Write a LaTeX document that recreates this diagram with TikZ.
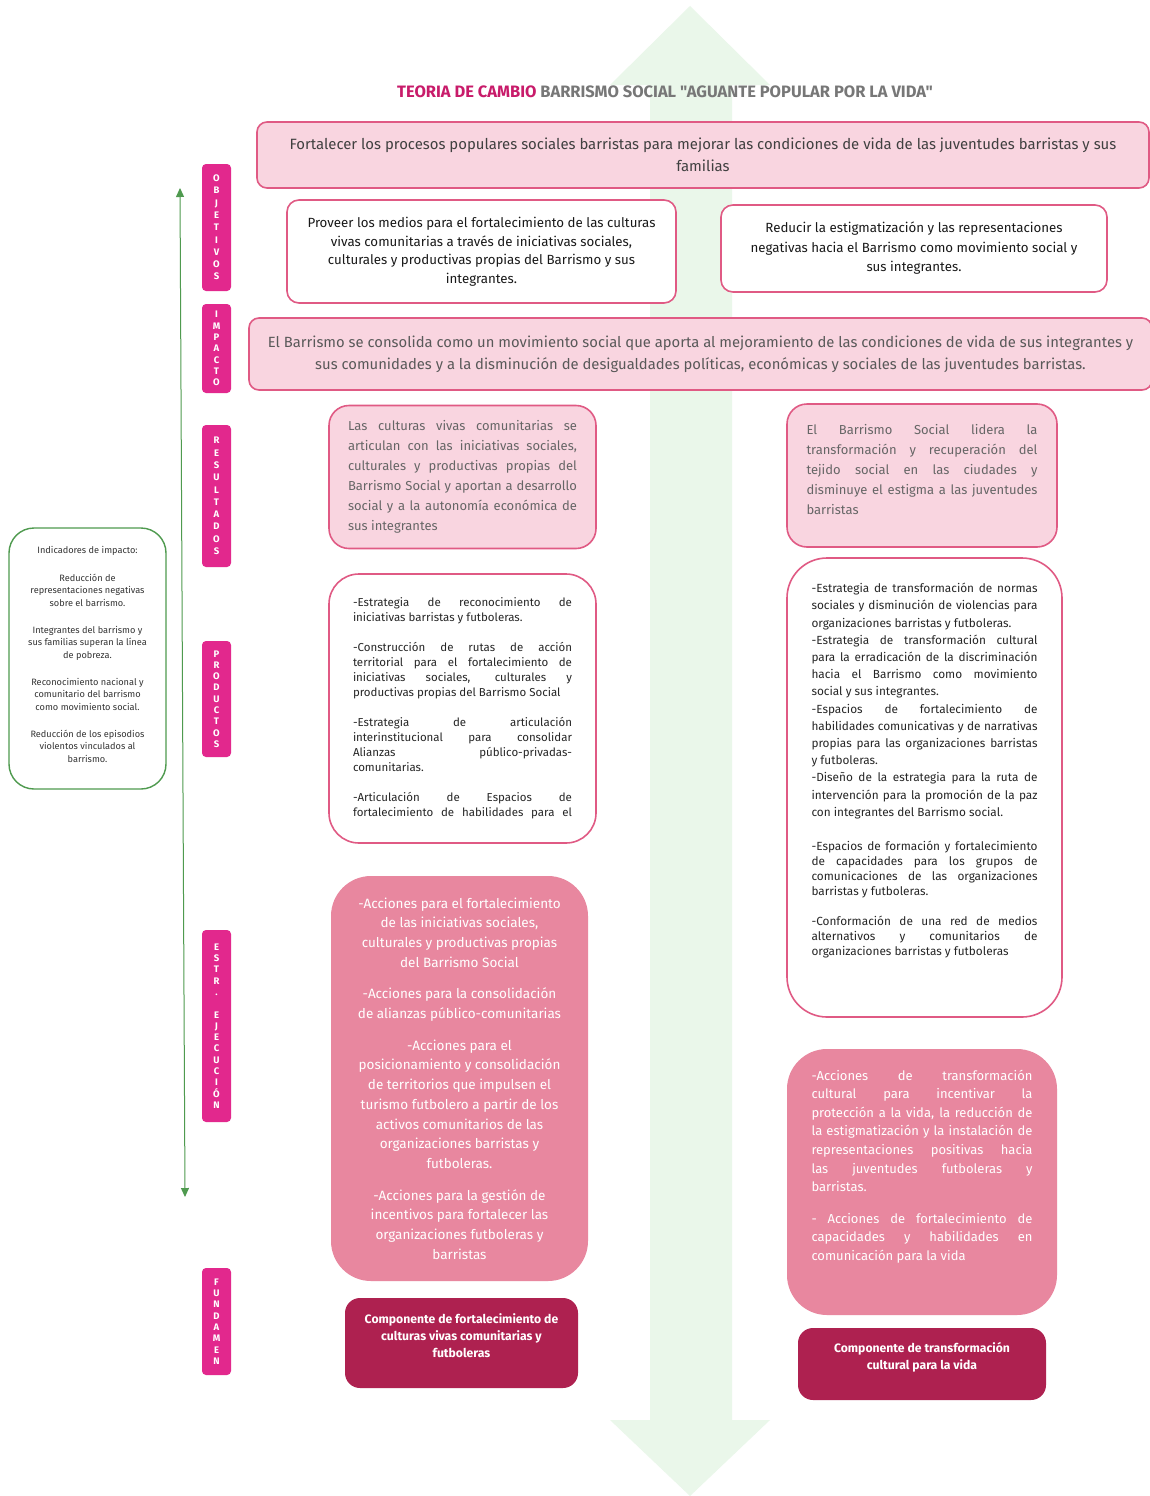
\documentclass[tikz,border=0pt]{standalone}
\usepackage{fontspec}
\setmainfont{Fira Sans}
\newfontfamily\titlefont{Fira Sans}
\usetikzlibrary{arrows.meta}
\definecolor{bggreen}{HTML}{EAF7EA}
\definecolor{linegreen}{HTML}{4F9A4F}
\definecolor{pinkfill}{HTML}{F9D5E0}
\definecolor{pinkline}{HTML}{E05A84}
\definecolor{ejecfill}{HTML}{E8879F}
\definecolor{compfill}{HTML}{AE2150}
\definecolor{tagpink}{HTML}{E2288D}
\definecolor{titlepink}{HTML}{C81B6A}
\definecolor{titlegray}{HTML}{777777}
\hyphenpenalty=10000
\tolerance=10000
\begin{document}
\begin{tikzpicture}[x=1pt, y=-1pt,
  every node/.style={inner sep=0pt},
  pinkbox/.style={draw=pinkline, line width=1.6pt, fill=pinkfill, rounded corners=#1},
  whitebox/.style={draw=pinkline, line width=1.6pt, fill=white, rounded corners=#1},
  ejecbox/.style={fill=ejecfill, rounded corners=40pt, text=white},
  compbox/.style={fill=compfill, rounded corners=15pt, text=white, align=center,
    font=\fontsize{12.2}{17}\selectfont\bfseries},
  tag/.style={fill=tagpink, rounded corners=4pt, minimum width=29pt, text=white,
    align=center, font=\fontsize{9.5}{11.3}\selectfont\bfseries}]
\useasboundingbox (0,0) rectangle (1149,1496);
\fill[white] (0,0) rectangle (1149,1496);
% big background arrow
\fill[bggreen] (690,6) -- (770,85) -- (732,85) -- (732,1420) -- (770,1420)
  -- (690,1496) -- (610,1420) -- (650,1420) -- (650,85) -- (610,85) -- cycle;

\node (title) at (665,92) {\titlefont\fontsize{16.5}{18}\selectfont\bfseries
  \color{titlepink}TEORIA DE CAMBIO \color{titlegray}BARRISMO SOCIAL "AGUANTE POPULAR POR LA VIDA"};

% objetivos
\node (goal) [pinkbox=10pt, minimum width=892pt, minimum height=66pt, align=center,
  text=black!75, font=\fontsize{14.9}{22}\selectfont] at (703,155)
  {Fortalecer los procesos populares sociales barristas para mejorar las condiciones de vida de las juventudes barristas y sus\\familias};
\node (obj1) [whitebox=12pt, minimum width=389pt, minimum height=103pt, align=center,
  text=black!90, font=\fontsize{13.3}{18.5}\selectfont] at (481.5,251.5)
  {Proveer los medios para el fortalecimiento de las culturas\\vivas comunitarias a través de iniciativas sociales,\\culturales y productivas propias del Barrismo y sus\\integrantes.};
\node (obj2) [whitebox=12pt, minimum width=386pt, minimum height=87pt, align=center,
  text=black!90, font=\fontsize{13.3}{19.5}\selectfont] at (914,248.5)
  {Reducir la estigmatización y las representaciones\\negativas hacia el Barrismo como movimiento social y\\sus integrantes.};

% impacto
\node (impact) [pinkbox=10pt, minimum width=903pt, minimum height=72pt, align=center,
  text=black!65, font=\fontsize{14.8}{22}\selectfont] at (700.5,354)
  {El Barrismo se consolida como un movimiento social que aporta al mejoramiento de las condiciones de vida de sus integrantes y\\sus comunidades y a la disminución de desigualdades políticas, económicas y sociales de las juventudes barristas.};

% resultados
\node (res1) [pinkbox=20pt, minimum width=267pt, minimum height=143pt, text width=229pt,
  align=justify, text=black!60, font=\fontsize{13}{20}\selectfont] at (462.5,477)
  {Las culturas vivas comunitarias se\linebreak articulan con las iniciativas sociales,\linebreak
   culturales y productivas propias del\linebreak Barrismo Social y aportan a desarrollo\linebreak
   social y a la autonomía económica de\linebreak sus integrantes};
\node (res2) [pinkbox=20pt, minimum width=270pt, minimum height=143pt, text width=231pt,
  align=justify, text=black!60, font=\fontsize{13}{20}\selectfont] at (922,475.5)
  {El Barrismo Social lidera la\linebreak transformación y recuperación del\linebreak
   tejido social en las ciudades y\linebreak disminuye el estigma a las juventudes\linebreak
   barristas\par\vspace{12pt}};

% productos
\node (prod1) [whitebox=30pt, minimum width=267pt, minimum height=269pt, text width=219pt,
  align=justify, text=black!85, font=\fontsize{11.5}{15}\selectfont] at (462.5,708.5)
  {-Estrategia de reconocimiento de\linebreak iniciativas barristas y futboleras.\\[15pt]
   -Construcción de rutas de acción\linebreak territorial para el fortalecimiento de\linebreak
   iniciativas sociales, culturales y\linebreak productivas propias del Barrismo Social\\[15pt]
   -Estrategia de articulación\linebreak interinstitucional para consolidar\linebreak
   Alianzas público-privadas-\linebreak comunitarias.\\[15pt]
   -Articulación de Espacios de\linebreak
   \makebox[\hsize][s]{fortalecimiento de habilidades para el}};
\node (prod2) [whitebox=40pt, minimum width=275pt, minimum height=459pt, text width=226pt,
  align=justify, text=black!85, font=\fontsize{11.8}{17.2}\selectfont] at (924.5,787.5)
  {-Estrategia de transformación de normas\linebreak sociales y disminución de violencias para\linebreak
   organizaciones barristas y futboleras.\\
   -Estrategia de transformación cultural\linebreak para la erradicación de la discriminación\linebreak
   hacia el Barrismo como movimiento\linebreak social y sus integrantes.\\
   -Espacios de fortalecimiento de\linebreak habilidades comunicativas y de narrativas\linebreak
   propias para las organizaciones barristas\linebreak y futboleras.\\
   -Diseño de la estrategia para la ruta de\linebreak intervención para la promoción de la paz\linebreak
   con integrantes del Barrismo social.\par
   \vspace{19pt}\fontsize{11.8}{15}\selectfont
   -Espacios de formación y fortalecimiento\linebreak de capacidades para los grupos de\linebreak
   comunicaciones de las organizaciones\linebreak barristas y futboleras.\par
   \vspace{15pt}
   -Conformación de una red de medios\linebreak alternativos y comunitarios de\linebreak
   organizaciones barristas y futboleras\par\vspace{34pt}};

% estrategias de ejecucion
\node (ejec1) [ejecbox, minimum width=257pt, minimum height=405pt, align=center,
  font=\fontsize{13.5}{19.7}\selectfont] at (459.5,1078.5)
  {-Acciones para el fortalecimiento\\de las iniciativas sociales,\\culturales y productivas propias\\del Barrismo Social\\[12pt]
   -Acciones para la consolidación\\de alianzas público-comunitarias\\[12pt]
   -Acciones para el\\posicionamiento y consolidación\\de territorios que impulsen el\\turismo futbolero a partir de los\\activos comunitarios de las\\organizaciones barristas y\\futboleras.\\[12pt]
   -Acciones para la gestión de\\incentivos para fortalecer las\\organizaciones futboleras y\\barristas};
\node (ejec2) [ejecbox, minimum width=270pt, minimum height=266pt, text width=221pt,
  align=justify, font=\fontsize{13}{18.6}\selectfont] at (922,1182)
  {-Acciones de transformación\linebreak cultural para incentivar la\linebreak
   protección a la vida, la reducción de\linebreak la estigmatización y la instalación de\linebreak
   representaciones positivas hacia\linebreak las juventudes futboleras y\linebreak barristas.\\[13pt]
   - Acciones de fortalecimiento de\linebreak capacidades y habilidades en\linebreak
   comunicación para la vida\par\vspace{31pt}};

% fundamentos
\node (comp1) [compbox, minimum width=233pt, minimum height=90pt] at (461.5,1343)
  {Componente de fortalecimiento de\\culturas vivas comunitarias y\\futboleras\\[-2pt]};
\node (comp2) [compbox, minimum width=248pt, minimum height=72pt] at (922,1364)
  {Componente de transformación\\cultural para la vida\\[0pt]};

% indicadores
\node (ind) [draw=linegreen, line width=1.4pt, fill=white, rounded corners=25pt,
  minimum width=157pt, minimum height=261pt, align=center, text=black!80,
  font=\fontsize{9.2}{12.5}\selectfont] at (87.5,658.5)
  {Indicadores de impacto:\\[15pt]
   Reducción de\\representaciones negativas\\sobre el barrismo.\\[14.5pt]
   Integrantes del barrismo y\\sus familias superan la línea\\de pobreza.\\[14.5pt]
   Reconocimiento nacional y\\comunitario del barrismo\\como movimiento social.\\[14.5pt]
   Reducción de los episodios\\violentos vinculados al\\barrismo.\\[-4pt]};

% etiquetas laterales
\node (tobj) [tag, minimum height=127pt, font=\fontsize{9.5}{12.3}\selectfont\bfseries] at (216.5,227.5)
  {O\\B\\J\\E\\T\\I\\V\\O\\S};
\node (timp) [tag, minimum height=89pt] at (216.5,348.5) {I\\M\\P\\A\\C\\T\\O};
\node (tres) [tag, minimum height=142pt, font=\fontsize{9.5}{12.3}\selectfont\bfseries] at (216.5,496)
  {R\\E\\S\\U\\L\\T\\A\\D\\O\\S};
\node (tprod) [tag, minimum height=116pt] at (216.5,699) {P\\R\\O\\D\\U\\C\\T\\O\\S};
\node (tejec) [tag, minimum height=192pt] at (216.5,1026)
  {E\\S\\T\\R\\.\\\mbox{}\\E\\J\\E\\C\\U\\C\\I\\Ó\\N};
\node (tfund) [tag, minimum height=107pt] at (216.5,1321.5) {F\\U\\N\\D\\A\\M\\E\\N};

% flecha lateral
\coordinate (top) at (180,188);
\coordinate (bottom) at (185,1197);
\draw[linegreen, line width=1pt, {Triangle[length=9pt,width=8pt]}-{Triangle[length=9pt,width=8pt]}] (top) -- (bottom);
\end{tikzpicture}
\end{document}
